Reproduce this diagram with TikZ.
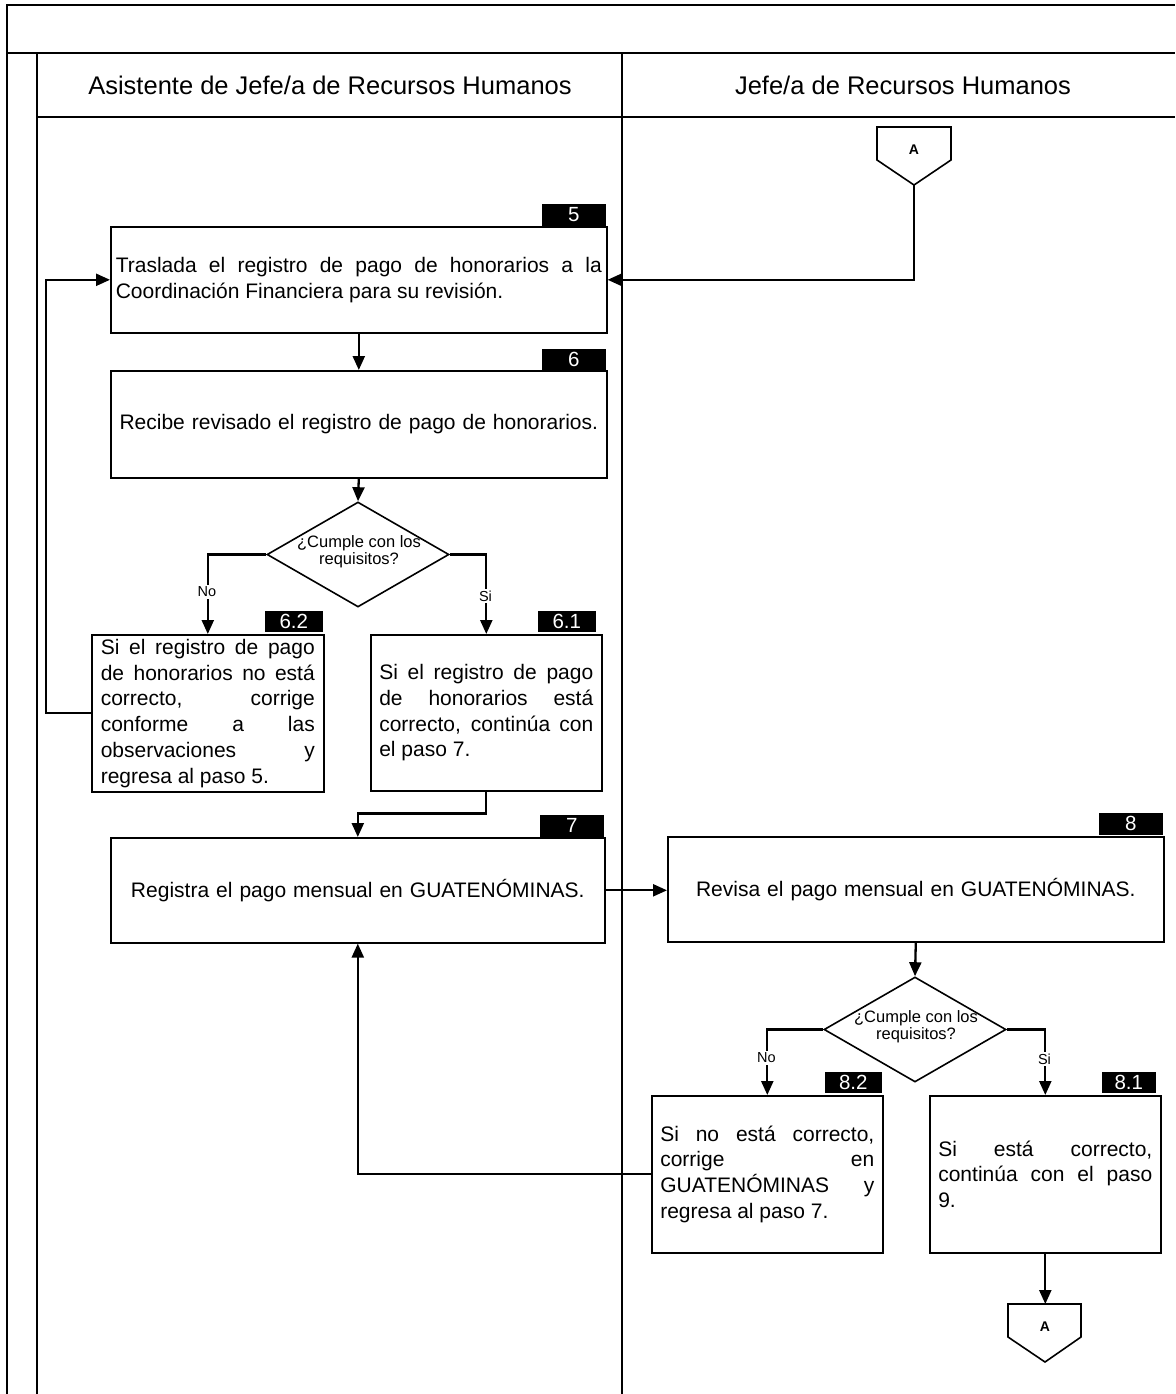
\documentclass[tikz,border=0pt]{standalone}
\usepackage{fontspec}
\setmainfont{Liberation Sans}
\usetikzlibrary{arrows.meta,shapes.geometric}
\hyphenpenalty=10000
\tolerance=10000
\hbadness=10000
\begin{document}
\begin{tikzpicture}[x=1pt,y=-1pt,
  frameline/.style={line width=2.4pt},
  box/.style={draw, line width=1.6pt, rectangle, anchor=north west, inner sep=0pt, fill=white,
    font=\fontsize{21}{25.8}\selectfont},
  smallbox/.style={box, text width=214, align=justify, minimum width=232, minimum height=157},
  badge/.style={fill=black, text=white, inner sep=0pt, anchor=south east, font=\fontsize{20.5}{20}\selectfont},
  dia/.style={draw, diamond, line width=1.6pt, inner sep=0pt, fill=white, minimum width=182, minimum height=105},
  dtext/.style={align=center, inner sep=0pt, font=\fontsize{16.5}{17}\selectfont},
  lbl/.style={fill=white, inner sep=1.5pt, font=\fontsize{14.5}{14}\selectfont},
  conn/.style={line width=2.3pt, -{Triangle[length=14pt,width=12pt]}},
  offpage/.style={draw, line width=1.6pt},
  hdr/.style={font=\fontsize{25.5}{26}\selectfont, inner sep=0pt}
]
\useasboundingbox (0,0) rectangle (1175,1394);
% frame
\draw[frameline] (7,1394) -- (7,5) -- (1175,5);
\draw[frameline] (7,53) -- (1175,53);
\draw[frameline] (37,53) -- (37,1394);
\draw[frameline] (37,117) -- (1175,117);
\draw[frameline] (622,53) -- (622,1394);
% headers
\node[hdr] (h1) at (330,85) {Asistente de Jefe/a de Recursos Humanos};
\node[hdr] (h2) at (903,85) {Jefe/a de Recursos Humanos};

% off-page connector top
\draw[offpage] (877,127) -- (951,127) -- (951,160) -- (914,185) -- (877,160) -- cycle;
\node[font=\fontsize{14}{14}\selectfont\bfseries, inner sep=0pt] (ca1) at (914,150) {A};
\coordinate (ca1tip) at (914,185);

% boxes
\node[box, minimum width=496, minimum height=106, text width=486, align=justify] (b5) at (110,226)
 {Traslada el registro de pago de honorarios a la\linebreak Coordinación Financiera para su revisión.};
\node[badge, minimum width=64, minimum height=22] (t5) at (606,226) {5};

\node[box, minimum width=496, minimum height=107, text width=486, align=center] (b6) at (110,370)
 {Recibe revisado el registro de pago de honorarios.\hspace*{6pt}};
\node[badge, minimum width=64, minimum height=21] (t6) at (606,370) {6};

\node[dia] (d1) at (358,554.5) {};
\node[dtext] (d1t) at (359,552) {¿Cumple con los\\requisitos?};

\node[smallbox] (b62) at (91,634)
 {Si el registro de pago\linebreak de honorarios no está\linebreak correcto, corrige\linebreak conforme a las\linebreak observaciones y\linebreak regresa al paso 5.};
\node[badge, minimum width=58, minimum height=21] (t62) at (323,632) {6.2};

\node[smallbox, minimum width=231, minimum height=156] (b61) at (370,634)
 {Si el registro de pago\linebreak de honorarios está\linebreak correcto, continúa con\linebreak el paso 7.};
\node[badge, minimum width=58, minimum height=21] (t61) at (596,632) {6.1};

\node[box, minimum width=494, minimum height=105, text width=486, align=center] (b7) at (110,837)
 {Registra el pago mensual en GUATENÓMINAS.};
\node[badge, minimum width=64, minimum height=22] (t7) at (604,837) {7};

\node[box, minimum width=496, minimum height=105, text width=486, align=center] (b8) at (667,836)
 {Revisa el pago mensual en GUATENÓMINAS.};
\node[badge, minimum width=64, minimum height=22] (t8) at (1163,835) {8};

\node[dia] (d2) at (915,1029.5) {};
\node[dtext] (d2t) at (916,1027) {¿Cumple con los\\requisitos?};

\node[smallbox, minimum width=231] (b82) at (651,1095)
 {Si no está correcto,\linebreak corrige en\linebreak GUATENÓMINAS y\linebreak regresa al paso 7.};
\node[badge, minimum width=57, minimum height=21] (t82) at (882,1093) {8.2};

\node[smallbox, minimum width=231] (b81) at (929,1095)
 {Si está correcto,\linebreak continúa con el paso\linebreak 9.};
\node[badge, minimum width=54, minimum height=21] (t81) at (1156,1093) {8.1};

% off-page connector bottom
\draw[offpage] (1008,1304) -- (1081,1304) -- (1081,1337) -- (1045,1362) -- (1008,1337) -- cycle;
\node[font=\fontsize{14}{14}\selectfont\bfseries, inner sep=0pt] (ca2) at (1045,1327) {A};
\coordinate (ca2top) at (1045,1304);

% connectors
\draw[conn] (ca1tip) |- (b5.east);
\draw[conn] (b5.south) -- (b6.north);
\draw[conn] (b6.south) -- (d1.north);
\draw[conn] (d1.west) -| (b62.north);
\draw[conn] (d1.east) -| (b61.north);
\draw[conn] (b62.west) -- ++(-45,0) |- (b5.west);
\draw[conn] (b61.south) -- ++(0,22) -| (b7.north);
\draw[conn] (b7.east) -- (b7.east -| b8.west);
\draw[conn] (b8.south) -- (d2.north);
\draw[conn] (d2.west) -| (b82.north);
\draw[conn] (d2.east) -| (b81.north);
\draw[conn] (b82.west) -| (b7.south);
\draw[conn] (b81.south) -- (b81.south |- ca2top);

% labels
\node[lbl] (l1) at (207,592) {No};
\node[lbl] (l2) at (485.5,596) {Si};
\node[lbl] (l3) at (766.5,1058) {No};
\node[lbl] (l4) at (1044.5,1059) {Si};
\end{tikzpicture}
\end{document}
